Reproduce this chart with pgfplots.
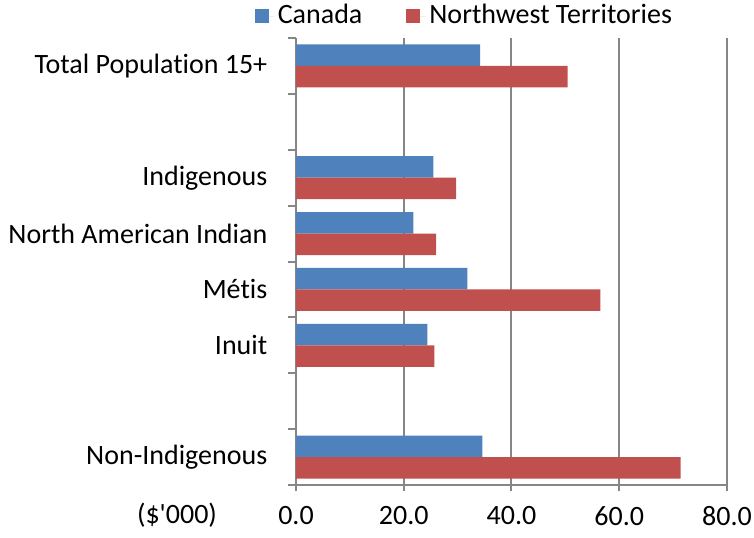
\documentclass[border=0pt]{standalone}
\usepackage{fontspec}
\setmainfont{Carlito}[Ligatures={NoCommon}]
\usepackage{pgfplots}
\pgfplotsset{compat=1.18}
\definecolor{cblue}{HTML}{4F81BD}
\definecolor{cred}{HTML}{C0504D}
\definecolor{gridgray}{HTML}{868686}
\begin{document}
\fontsize{14}{16.5}\selectfont
\begin{tikzpicture}
\path[use as bounding box] (-148pt,-26pt) rectangle (229pt,242.5pt);
\begin{axis}[
  at={(0,0)}, anchor=south west,
  width=215.5pt, height=223.5pt, scale only axis,
  xmin=0, xmax=80, ymin=-0.5, ymax=7.5,
  xbar, bar width=0.385,
  axis lines*=left,
  axis line style={gridgray, line width=1pt},
  xtick={0,20,40,60,80},
  xmajorgrids, grid style={gridgray, line width=1pt},
  tick align=outside,
  tick style={gridgray, line width=1pt},
  major tick length=3pt, minor tick length=4pt,
  ytick={0,2,3,4,5,7},
  yticklabels={Non-Indigenous,Inuit,Métis,North American Indian,Indigenous,Total Population 15+},
  minor ytick={-0.5,0.5,...,7.5},
  major y tick style={draw=none},
  yticklabel style={xshift=-6.5pt},
  xticklabel style={yshift=-3pt, /pgf/number format/.cd, fixed, fixed zerofill, precision=1, assume math mode=true},
  xlabel={(\$\textquotesingle 000)},
  xlabel style={at={(axis description cs:0,0)}, anchor=center, xshift=-59.5pt, yshift=-15pt},
  legend columns=2,
  legend style={at={(0.393,1)}, anchor=center, yshift=11pt, draw=none, fill=none,
    /tikz/every even column/.append style={column sep=20pt}},
  legend cell align=left,
]
\addplot[fill=cblue, draw=none, bar shift=0.1925,
  legend image code/.code={\fill[cblue] (0pt,-3.5pt) rectangle (7pt,3.5pt); \path (0pt,0pt) -- (9.5pt,0pt);}]
  coordinates {(34.6,0) (24.4,2) (31.8,3) (21.8,4) (25.5,5) (34.2,7)};
\addplot[fill=cred, draw=none, bar shift=-0.1925,
  legend image code/.code={\fill[cred] (0pt,-3.5pt) rectangle (7pt,3.5pt); \path (0pt,0pt) -- (9.5pt,0pt);}]
  coordinates {(71.4,0) (25.7,2) (56.5,3) (26.0,4) (29.7,5) (50.4,7)};
\legend{Canada, Northwest Territories}
\end{axis}
\end{tikzpicture}
\end{document}
